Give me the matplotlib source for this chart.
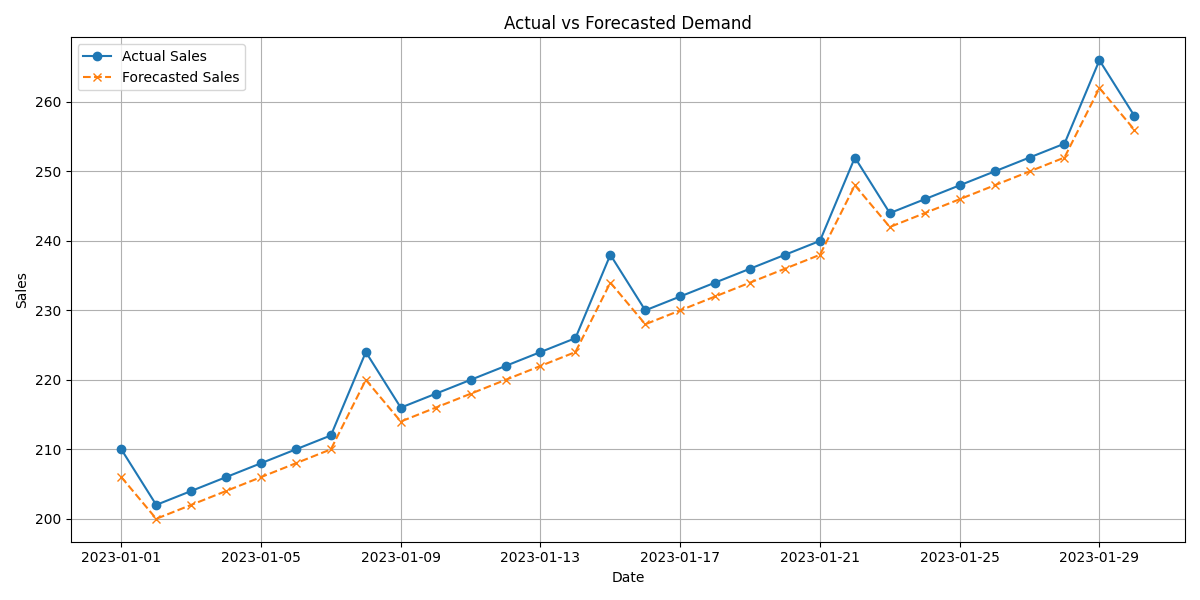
import pandas as pd
import matplotlib.pyplot as plt

dates = pd.date_range('2023-01-01', periods=30, freq='D')
actual_sales = [210, 202, 204, 206, 208, 210, 212, 224, 216, 218,
                220, 222, 224, 226, 238, 230, 232, 234, 236, 238,
                240, 252, 244, 246, 248, 250, 252, 254, 266, 258]
forecast_sales = [206, 200, 202, 204, 206, 208, 210, 220, 214, 216,
                  218, 220, 222, 224, 234, 228, 230, 232, 234, 236,
                  238, 248, 242, 244, 246, 248, 250, 252, 262, 256]

plt.figure(figsize=(12, 6))
plt.plot(dates, actual_sales, label='Actual Sales', marker='o')
plt.plot(dates, forecast_sales, label='Forecasted Sales', linestyle='--', marker='x')
plt.xlabel('Date')
plt.ylabel('Sales')
plt.title('Actual vs Forecasted Demand')
plt.legend(loc='upper left')
plt.grid(True)
plt.tight_layout()
plt.savefig('out.png', dpi=100)
